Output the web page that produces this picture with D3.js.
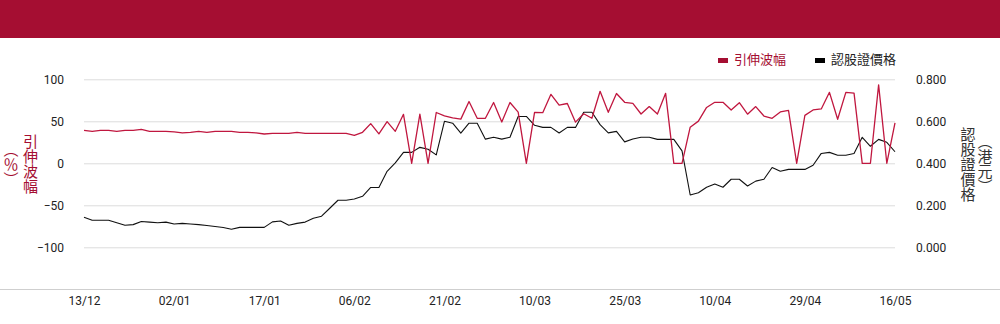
<!DOCTYPE html>
<html>
<head>
<meta charset="utf-8">
<script src="https://cdn.jsdelivr.net/npm/d3@7"></script>
<style>
  html, body { margin: 0; padding: 0; background: #fff; }
  svg { display: block; }
</style>
</head>
<body>
<svg id="chart" width="1000" height="324"></svg>
<script>
// Daily implied volatility (%) of the warrant
const volatility = [
  39.3, 38.1, 39.3, 39.3, 38.1, 39.3, 39.3, 40.5, 38.1, 38.1,
  38.1, 37.3, 36.1, 36.9, 38.1, 36.9, 38.1, 38.1, 38.1, 36.9,
  36.9, 36.1, 34.9, 35.7, 35.7, 35.7, 36.9, 35.7, 35.7, 35.7,
  35.7, 35.7, 35.7, 33.3, 36.9, 47.2, 35.0, 49.6, 38.1, 58.3,
  0, 58.5, 0, 60.5, 56.5, 54.0, 52.6, 73.6, 53.6, 53.6,
  72.4, 49.2, 72.4, 61.0, 0, 60.7, 60.3, 82.1, 69.2, 71.2,
  49.0, 59.0, 53.6, 85.7, 60.7, 83.1, 72.6, 71.4, 58.7, 67.5,
  58.7, 83.3, 0, 0, 43.0, 50.2, 66.5, 72.6, 72.6, 63.5,
  72.2, 58.5, 67.5, 56.3, 53.6, 61.1, 63.1, 0, 57.1, 63.5,
  64.7, 84.5, 52.4, 84.5, 83.5, 0, 0, 93.3, 0, 48.2
];

// Daily warrant price (HKD)
const price = [
  0.143, 0.129, 0.129, 0.129, 0.117, 0.105, 0.108, 0.123, 0.120, 0.117,
  0.120, 0.111, 0.114, 0.111, 0.108, 0.104, 0.099, 0.094, 0.086, 0.095,
  0.095, 0.095, 0.095, 0.121, 0.125, 0.105, 0.114, 0.120, 0.138, 0.148,
  0.186, 0.224, 0.224, 0.230, 0.243, 0.285, 0.285, 0.362, 0.402, 0.452,
  0.452, 0.476, 0.467, 0.440, 0.600, 0.591, 0.544, 0.591, 0.591, 0.515,
  0.524, 0.515, 0.524, 0.623, 0.623, 0.581, 0.571, 0.571, 0.544, 0.571,
  0.571, 0.643, 0.643, 0.584, 0.545, 0.552, 0.502, 0.516, 0.524, 0.524,
  0.514, 0.514, 0.514, 0.459, 0.249, 0.260, 0.286, 0.301, 0.286, 0.324,
  0.324, 0.292, 0.315, 0.324, 0.380, 0.362, 0.371, 0.371, 0.371, 0.391,
  0.447, 0.452, 0.438, 0.438, 0.447, 0.524, 0.481, 0.514, 0.500, 0.455
];

// Date labels, one every 11 trading days
const tickLabels = ["13/12", "02/01", "17/01", "06/02", "21/02", "10/03", "25/03", "10/04", "29/04", "16/05"];
const tickStep = 11;

const leftTicks = [-100, -50, 0, 50, 100];
const rightTicks = [0, 0.2, 0.4, 0.6, 0.8];

const seriesNames = ["引伸波幅", "認股證價格"];
const leftTitle = ["引伸波幅", "（％）"];
const rightTitle = ["認股證價格", "（港元）"];

const RED = "#a50e32";
const LINE_RED = "#c0173f";
const numFont = "Roboto, 'Liberation Sans', Arial, sans-serif";
const cjkFont = "'Noto Sans CJK TC', 'Noto Sans CJK SC', sans-serif";

const W = 1000, H = 324;
const plot = { left: 84, right: 895, top: 79.3, bottom: 247.3 };

const svg = d3.select("#chart");

// header band
svg.append("rect").attr("x", 0).attr("y", 0).attr("width", W).attr("height", 38).attr("fill", RED);

const idx = d3.range(volatility.length);
const x = d3.scalePoint().domain(idx).range([plot.left, plot.right]);
const yL = d3.scaleLinear().domain([-100, 100]).range([plot.bottom, plot.top]);
const yR = d3.scaleLinear().domain([0, 0.8]).range([plot.bottom, plot.top]);

// gridlines + left axis
const gLeft = svg.append("g").attr("transform", `translate(${plot.left},0)`)
  .call(d3.axisLeft(yL).tickValues(leftTicks).tickSize(-(plot.right - plot.left)).tickPadding(20).tickFormat(d3.format("d")));
gLeft.select(".domain").remove();
gLeft.selectAll(".tick line").attr("stroke", "#dcdcdc").attr("stroke-width", 1);
gLeft.selectAll(".tick text").attr("fill", "#222").style("font", `12px ${numFont}`);

// right axis
const gRight = svg.append("g").attr("transform", `translate(${plot.right},0)`)
  .call(d3.axisRight(yR).tickValues(rightTicks).tickSize(0).tickPadding(21).tickFormat(d3.format(".3f")));
gRight.select(".domain").remove();
gRight.selectAll(".tick text").attr("fill", "#222").style("font", `12px ${numFont}`);

// bottom rule and date axis
svg.append("line").attr("x1", 0).attr("x2", W).attr("y1", 289.5).attr("y2", 289.5)
  .attr("stroke", "#cfcfcf").attr("stroke-width", 1);

const xTickVals = idx.filter(i => i % tickStep === 0);
const gBottom = svg.append("g").attr("transform", "translate(0,296)")
  .call(d3.axisBottom(x).tickValues(xTickVals).tickSize(0).tickPadding(0)
    .tickFormat(i => tickLabels[i / tickStep]));
gBottom.select(".domain").remove();
gBottom.selectAll(".tick text").attr("fill", "#222").style("font", `12px ${numFont}`);

// series lines
const lineL = d3.line().x((d, i) => x(i)).y(d => yL(d));
const lineR = d3.line().x((d, i) => x(i)).y(d => yR(d));

svg.append("path").datum(price).attr("d", lineR)
  .attr("fill", "none").attr("stroke", "#111").attr("stroke-width", 1.1).attr("stroke-linejoin", "round");
svg.append("path").datum(volatility).attr("d", lineL)
  .attr("fill", "none").attr("stroke", LINE_RED).attr("stroke-width", 1.3).attr("stroke-linejoin", "round");

// legend
const legendItems = [
  { name: seriesNames[0], color: RED, text: RED, x: 718 },
  { name: seriesNames[1], color: "#000", text: "#222", x: 815 }
];
const lg = svg.append("g");
legendItems.forEach(it => {
  lg.append("rect").attr("x", it.x).attr("y", 58).attr("width", 10).attr("height", 5).attr("fill", it.color);
  lg.append("text").attr("x", it.x + 16).attr("y", 60.5).attr("dominant-baseline", "middle")
    .attr("fill", it.text).style("font", `13px ${cjkFont}`).text(it.name);
});

// vertical axis titles
function vtext(txt, cx, cy, color) {
  svg.append("text")
    .attr("x", cx).attr("y", cy)
    .attr("text-anchor", "middle")
    .style("writing-mode", "vertical-rl")
    .style("font", `15px ${cjkFont}`)
    .attr("fill", color)
    .text(txt);
}
vtext(leftTitle[0], 30.5, 164, RED);
vtext(leftTitle[1], 11, 164, RED);
vtext(rightTitle[0], 968, 164, "#333");
vtext(rightTitle[1], 985, 164, "#333");
</script>
</body>
</html>
